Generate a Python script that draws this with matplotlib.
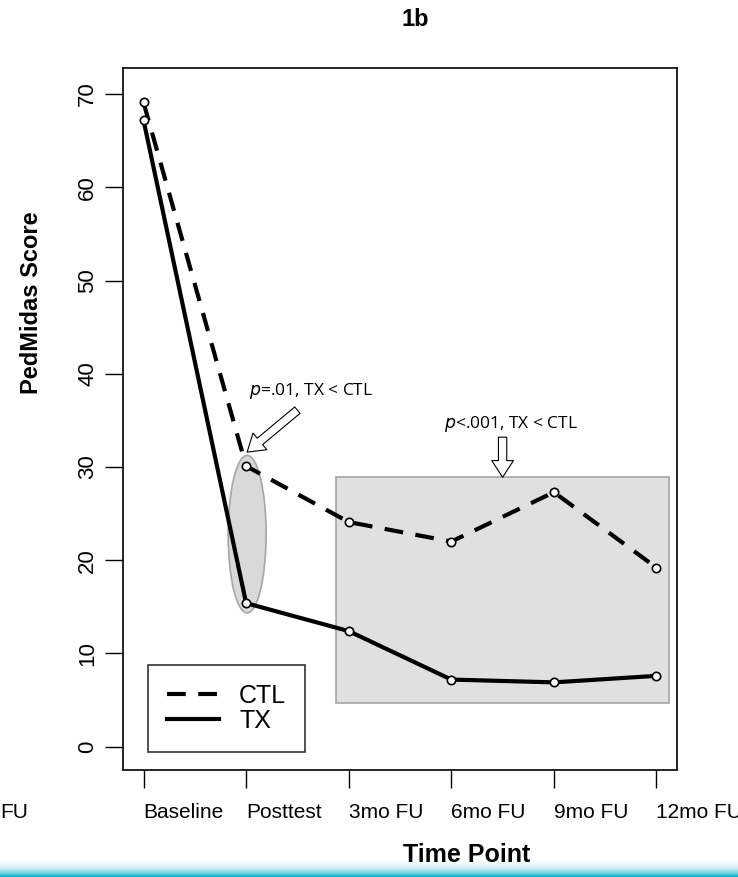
import numpy as np
import matplotlib.pyplot as plt
from matplotlib.patches import Rectangle, Ellipse

time_points = ["Baseline", "Posttest", "3mo FU", "6mo FU", "9mo FU", "12mo FU"]
ctl_scores = [69.1, 30.1, 24.1, 22.0, 27.3, 19.2]
tx_scores = [67.2, 15.4, 12.4, 7.2, 6.9, 7.6]
y_ticks = [0, 10, 20, 30, 40, 50, 60, 70]

W, H = 738, 877
fig = plt.figure(figsize=(W / 100, H / 100), dpi=100)
ax = fig.add_axes([123 / W, 1 - 770 / H, (677 - 123) / W, (770 - 68) / H])

x = np.arange(len(time_points))

# highlighted regions
ax.add_patch(Rectangle((1.88, 4.7), 5.12 - 1.88, 28.9 - 4.7,
                       facecolor="#e0e0e0", edgecolor="#a6a6a6", lw=1.2, zorder=1))
ax.add_patch(Ellipse((1.01, 22.8), 0.37, 16.9,
                     facecolor="#d9d9d9", edgecolor="#a6a6a6", lw=1.2, zorder=1))

ax.plot(x, ctl_scores, color="black", lw=3, ls=(0, (4.5, 3)), label="CTL", zorder=3)
ax.plot(x, tx_scores, color="black", lw=3, ls="-", label="TX", zorder=3)
ax.plot(x, ctl_scores, ls="none", marker="o", ms=6, mfc="white", mec="black", mew=1.2, zorder=4)
ax.plot(x, tx_scores, ls="none", marker="o", ms=6, mfc="white", mec="black", mew=1.2, zorder=4)

ax.set_xlim(-0.2, 5.2)
ax.set_ylim(-2.5, 72.8)

ax.set_xticks(x)
ax.set_xticklabels(time_points, fontsize=15, family="Liberation Sans", ha="left")
ax.set_yticks(y_ticks)
ax.set_yticklabels([str(v) for v in y_ticks], fontsize=16, family="Liberation Sans",
                   rotation=90, va="center")
ax.tick_params(axis="x", length=13, width=1, pad=11)
ax.tick_params(axis="y", length=13, width=1, pad=5)
for s in ax.spines.values():
    s.set_linewidth(1.2)

leg = ax.legend(loc="lower left", bbox_to_anchor=(0.045, 0.026),
                prop={"family": "Liberation Sans", "size": 18},
                handlelength=2.1, frameon=True, fancybox=False, edgecolor="black",
                borderpad=0.75, labelspacing=0.05, handletextpad=0.8, borderaxespad=0)
leg.get_frame().set_linewidth(1.2)

# p-value annotations
arrow_kw = dict(arrowstyle="simple,tail_width=0.5,head_width=1.3,head_length=1.0",
                fc="white", ec="black", lw=0.8, shrinkA=0, shrinkB=0, mutation_scale=12)
ax.annotate("", xy=(1.01, 31.6), xytext=(1.50, 36.1), arrowprops=arrow_kw, zorder=5)
ax.annotate("", xy=(3.50, 28.9), xytext=(3.50, 33.2), arrowprops=arrow_kw, zorder=5)
ax.text(1.63, 38.1, "$\\it{p}$=.01, TX < CTL", ha="center", va="center",
        fontsize=12.5, family="Open Sans")
ax.text(3.58, 34.6, "$\\it{p}$<.001, TX < CTL", ha="center", va="center",
        fontsize=12.5, family="Open Sans")

fig.text(415 / W, 1 - 20 / H, "1b", ha="center", va="center",
         fontsize=17, fontweight="bold", family="Liberation Sans")
fig.text(32 / W, 1 - 303 / H, "PedMidas Score", ha="center", va="center", rotation=90,
         fontsize=17, fontweight="bold", family="Liberation Sans")
fig.text(467 / W, 1 - 855 / H, "Time Point", ha="center", va="center",
         fontsize=18, fontweight="bold", family="Liberation Sans")
fig.text(0, 1 - 812 / H, "FU", ha="left", va="center", fontsize=15, family="Liberation Sans")

# teal band along the bottom edge
band = fig.add_axes([0, 0, 1, 22 / H], zorder=-1)
grad = np.linspace(0, 1, 60).reshape(-1, 1) ** 3
top = np.array([1.0, 1.0, 1.0])
bottom = np.array([0.0, 0.68, 0.80])
img = grad[..., None] * bottom + (1 - grad[..., None]) * top
band.imshow(img, aspect="auto", extent=[0, 1, 0, 1], origin="upper")
band.axis("off")

fig.savefig("out.png", dpi=100)
